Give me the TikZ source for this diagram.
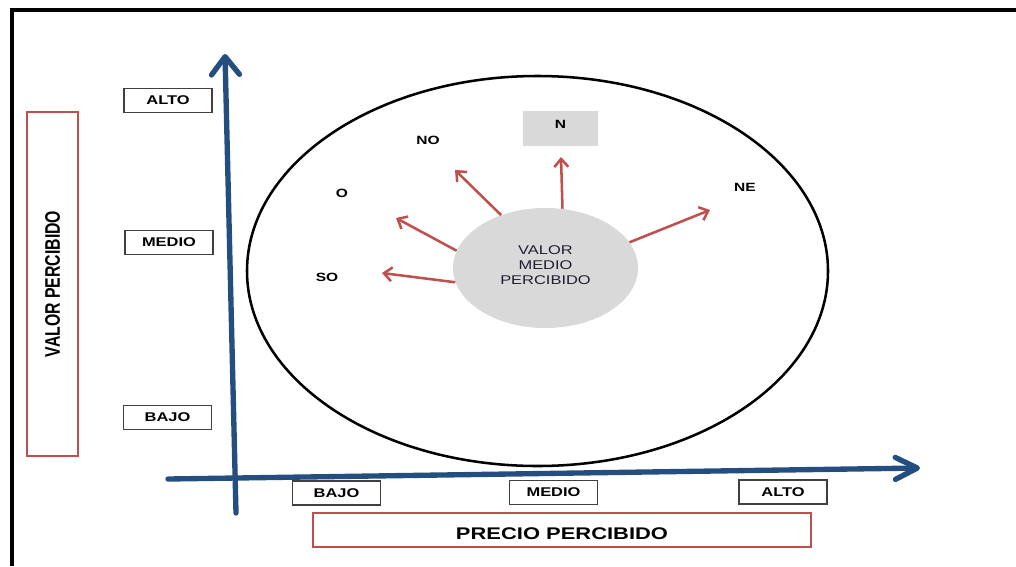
\documentclass[tikz,border=0pt]{standalone}
\usepackage{fontspec}
\setmainfont{Liberation Sans}
\newfontfamily\widefont[FakeStretch=1.3]{Liberation Sans}
\usetikzlibrary{arrows.meta,shapes.geometric}
\definecolor{axisblue}{RGB}{37,78,128}
\definecolor{arrowred}{RGB}{192,80,77}
\definecolor{fillgray}{RGB}{217,217,217}
\definecolor{boxgray}{RGB}{64,64,64}
\definecolor{darktext}{RGB}{30,30,50}
\tikzset{
  tickbox/.style={draw=boxgray, line width=1.1pt, minimum width=2.2cm, minimum height=0.6cm, inner sep=0pt, font=\widefont\bfseries\fontsize{9}{11}\selectfont},
  dirlabel/.style={inner sep=0pt, font=\widefont\bfseries\fontsize{8.5}{10}\selectfont},
  titlebox/.style={draw=arrowred, line width=1.4pt, inner sep=0pt},
  ray/.style={draw=arrowred, line width=1.8pt, -{Straight Barb[length=0.2cm,width=0.35cm]}},
  axis/.style={draw=axisblue, line width=3.8pt, line cap=round}
}

\begin{document}
\begin{tikzpicture}[x=0.025cm, y=-0.025cm]
    \useasboundingbox (0,0) rectangle (1016,566);
    \draw[line width=2.5pt] (12,566) -- (12,10) -- (1016,10);
    \draw[line width=1.8pt] (537.5,271) ellipse [x radius=290.5, y radius=195];
    \coordinate (ybot) at (236,513);
    \coordinate (ytop) at (225,54);
    \coordinate (xleft) at (168,479);
    \coordinate (xright) at (920,468);
    \draw[axis, -{Straight Barb[length=0.45cm,width=0.7cm,round]}] (ybot) -- (ytop);
    \draw[axis, -{Straight Barb[length=0.55cm,width=0.55cm,round]}] (xleft) -- (xright);
    \node[tickbox] (yalto) at (168,100.5) {ALTO};
    \node[tickbox] (ymedio) at (169,242.5) {MEDIO};
    \node[tickbox] (ybajo) at (167.5,417.5) {BAJO};
    \node[tickbox] (xbajo) at (336.5,493) {BAJO};
    \node[tickbox] (xmedio) at (553.5,492.5) {MEDIO};
    \node[tickbox] (xalto) at (783,492) {ALTO};
    \node[titlebox, rotate=90, minimum width=8.6cm, minimum height=1.275cm, font=\bfseries\fontsize{15}{17}\selectfont] (valor) at (52.5,284) {\scalebox{0.75}[1]{VALOR PERCIBIDO}};
    \node[titlebox, minimum width=12.45cm, minimum height=0.85cm, text height=12.8pt, text depth=0pt, font=\widefont\bfseries\fontsize{12}{14}\selectfont] (precio) at (562,530) {PRECIO PERCIBIDO};
    \node[ellipse, fill=fillgray, minimum width=4.625cm, minimum height=3cm, inner sep=0pt, align=center, text depth=4.2pt, text=darktext, font=\widefont\fontsize{9}{11}\selectfont] (vmp) at (545.5,268) {VALOR\\MEDIO\\PERCIBIDO};
    \node[dirlabel, fill=fillgray, minimum width=1.875cm, minimum height=0.875cm, text depth=6pt] (n) at (560.5,128.5) {N};
    \node[dirlabel] (no) at (428,140) {NO};
    \node[dirlabel] (o) at (342,193) {O};
    \node[dirlabel] (so) at (327,277) {SO};
    \node[dirlabel] (ne) at (745,187) {NE};
    \coordinate (tipn) at (561,157);
    \coordinate (tipno) at (455,170);
    \coordinate (tipo) at (396,218);
    \coordinate (tipso) at (382,273);
    \coordinate (tipne) at (710,210);
    \draw[ray] (vmp.74.6) -- (tipn);
    \draw[ray] (vmp.130.8) -- (tipno);
    \draw[ray] (vmp.169.4) -- (tipo);
    \draw[ray] (vmp.189.4) -- (tipso);
    \draw[ray] (vmp.17.8) -- (tipne);
\end{tikzpicture}
\end{document}
